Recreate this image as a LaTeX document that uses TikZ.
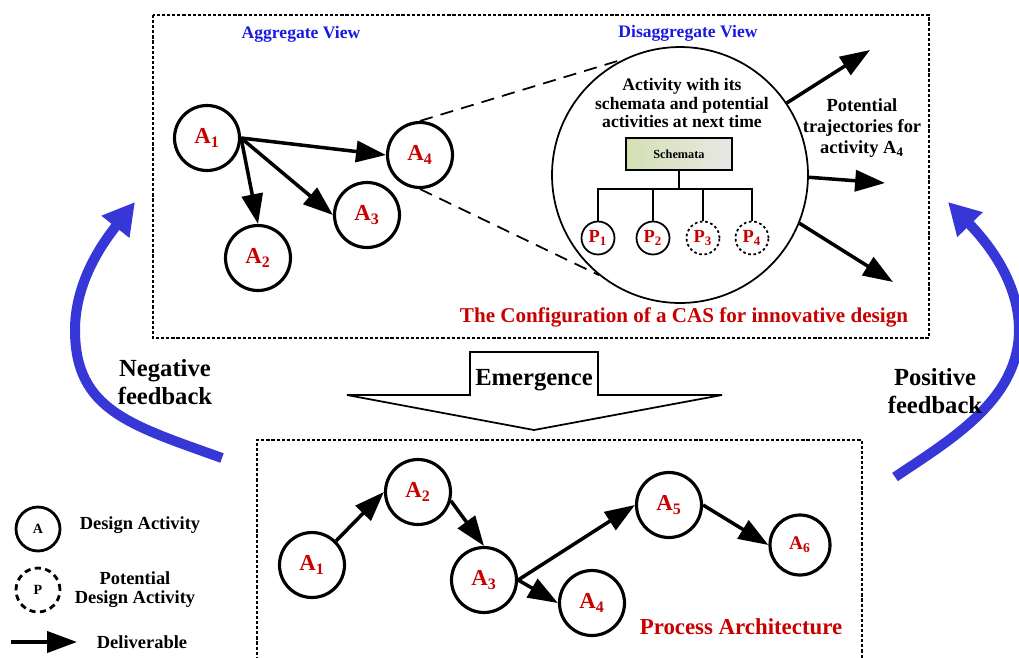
\documentclass[tikz,border=0pt]{standalone}
\usepackage{fontspec}
\setmainfont{Liberation Serif}
\usetikzlibrary{arrows.meta,positioning}

\definecolor{actred}{RGB}{200,0,0}
\definecolor{viewblue}{RGB}{25,25,225}
\definecolor{fbblue}{RGB}{55,55,215}
\definecolor{schemaleft}{RGB}{212,224,178}
\definecolor{schemaright}{RGB}{232,232,230}

\begin{document}
\begin{tikzpicture}[
    x=0.02cm, y=-0.02cm,
    font=\bfseries,
    >={Triangle[length=17pt,width=12pt]},
    act/.style={circle, draw, line width=1.8pt, minimum size=1.3cm, inner sep=0pt,
                text=actred, font=\fontsize{13}{15}\selectfont\bfseries},
    pot/.style={circle, draw, line width=1pt, minimum size=0.66cm, inner sep=0pt,
                text=actred, font=\fontsize{10.5}{12}\selectfont\bfseries},
    potdash/.style={pot, dash pattern=on 1.5pt off 1.5pt},
    deliv/.style={->, line width=2pt},
    frame/.style={line width=1.1pt, dash pattern=on 1.8pt off 1.1pt},
    zoomline/.style={line width=1pt, dash pattern=on 7.5pt off 4.7pt},
    feedback/.style={line width=5.7pt, draw=fbblue, -{Triangle[length=18pt,width=19pt]}},
    txt/.style={align=center, font=\fontsize{10.5}{12}\selectfont\bfseries}
  ]
  \useasboundingbox (0,0) rectangle (1019,657);

  % Marcos punteados
  \draw[frame] (153,15) rectangle (929,338);
  \draw[frame] (257,665) -- (257,440) -- (862,440) -- (862,665);

  % Vista agregada
  \node[txt, font=\fontsize{10}{12}\selectfont\bfseries, text=viewblue] (aggv) at (301,34) {Aggregate View};
  \node[act] (a1) at (207,138) {A\textsubscript{1}};
  \node[act] (a2) at (258,258) {A\textsubscript{2}};
  \node[act] (a3) at (367,215) {A\textsubscript{3}};
  \node[act] (a4) at (420,155) {A\textsubscript{4}};
  \draw[deliv] (a1.east) -- (a4.west);
  \draw[deliv] (a1.east) -- (a2.north);
  \draw[deliv] (a1.east) -- (a3.west);

  % Vista desagregada
  \node[txt, font=\fontsize{10}{12}\selectfont\bfseries, text=viewblue] (disv) at (688,33) {Disaggregate View};
  \node[circle, draw, line width=1pt, minimum size=5.12cm, inner sep=0pt] (cas) at (680,175) {};
  \draw[zoomline] (a4.north) -- (cas.116);
  \draw[zoomline] (a4.south) -- (cas.231);
  \node[txt, font=\fontsize{10}{10.5}\selectfont\bfseries] (actxt) at (682,103)
    {Activity with its\\schemata and potential\\activities at next time};
  \node[draw, left color=schemaleft, right color=schemaright, line width=0.6pt,
        minimum width=2.12cm, minimum height=0.64cm,
        font=\fontsize{7}{8}\selectfont\bfseries] (schema) at (679,154) {Schemata};
  \node[pot] (p1) at (598,238) {P\textsubscript{1}};
  \node[pot] (p2) at (653,238) {P\textsubscript{2}};
  \node[potdash] (p3) at (703,238) {P\textsubscript{3}};
  \node[potdash] (p4) at (752,238) {P\textsubscript{4}};
  \coordinate (fork) at (679,189);
  \draw[line width=1pt] (schema.south) -- (fork);
  \draw[line width=1pt] (p1.north) -- (p1.north |- fork) -- (p4.north |- fork) -- (p4.north);
  \draw[line width=1pt] (p2.north) -- (p2.north |- fork);
  \draw[line width=1pt] (p3.north) -- (p3.north |- fork);

  % Trayectorias potenciales
  \coordinate (tr1) at (870,50);
  \coordinate (tr2) at (885,183);
  \coordinate (tr3) at (893,282);
  \draw[deliv] (cas.34) -- (tr1);
  \draw[deliv] (cas.-1) -- (tr2);
  \draw[deliv] (cas.-22) -- (tr3);
  \node[txt] (trtxt) at (862,128) {Potential\\trajectories for\\activity A\textsubscript{4}};
  \node[text=actred, font=\fontsize{12}{14}\selectfont\bfseries] (cfg) at (684,317)
    {The Configuration of a CAS for innovative design};

  % Emergencia
  \draw[line width=1pt, fill=white] (347,395) -- (470,395) -- (470,352) -- (598,352)
    -- (598,395) -- (722,395) -- (534,430) -- cycle;
  \node[font=\fontsize{14}{16}\selectfont\bfseries] (emer) at (534,380) {Emergence};

  % Arquitectura del proceso
  \node[act] (b1) at (312,565) {A\textsubscript{1}};
  \node[act] (b2) at (418,492) {A\textsubscript{2}};
  \node[act] (b3) at (484,580) {A\textsubscript{3}};
  \node[act] (b4) at (592,603) {A\textsubscript{4}};
  \node[act] (b5) at (669,505) {A\textsubscript{5}};
  \node[act, minimum size=1.2cm, font=\fontsize{11}{13}\selectfont\bfseries] (b6) at (800,545) {A\textsubscript{6}};
  \draw[deliv] (b1.45) -- (b2.west);
  \draw[deliv] (b2.-15) -- (b3.north);
  \draw[deliv] (b3.east) -- (b5.west);
  \draw[deliv] (b3.east) -- (b4.west);
  \draw[deliv] (b5.east) -- (b6.west);
  \node[text=actred, font=\fontsize{13}{15}\selectfont\bfseries] (proc) at (741,627) {Process Architecture};

  % Retroalimentacion
  \draw[feedback] (222,458) .. controls (130,425) and (75,410) .. (75,330)
    .. controls (75,280) and (105,240) .. (135,202);
  \draw[feedback] (895,477) .. controls (950,440) and (1019,400) .. (1019,330)
    .. controls (1019,280) and (985,240) .. (948,202);
  \node[txt, font=\fontsize{14}{16.4}\selectfont\bfseries] (negfb) at (165,382) {Negative\\feedback};
  \node[txt, font=\fontsize{14}{16.4}\selectfont\bfseries] (posfb) at (935,391) {Positive\\feedback};

  % Leyenda
  \node[circle, draw, line width=1.6pt, minimum size=0.88cm, inner sep=0pt,
        font=\fontsize{8}{9}\selectfont\bfseries] (lega) at (38,529) {A};
  \node[circle, draw, line width=1.6pt, minimum size=0.88cm, inner sep=0pt,
        dash pattern=on 3.5pt off 2.5pt, font=\fontsize{8}{9}\selectfont\bfseries] (legp) at (38,590) {P};
  \node[txt] (legatxt) at (140,525) {Design Activity};
  \node[txt, font=\fontsize{10.5}{10.8}\selectfont\bfseries] (legptxt) at (135,590) {Potential\\Design Activity};
  \coordinate (dl0) at (11,642);
  \coordinate (dl1) at (77,642);
  \draw[deliv] (dl0) -- (dl1);
  \node[txt] (legdtxt) at (142,642) {Deliverable};
\end{tikzpicture}
\end{document}
